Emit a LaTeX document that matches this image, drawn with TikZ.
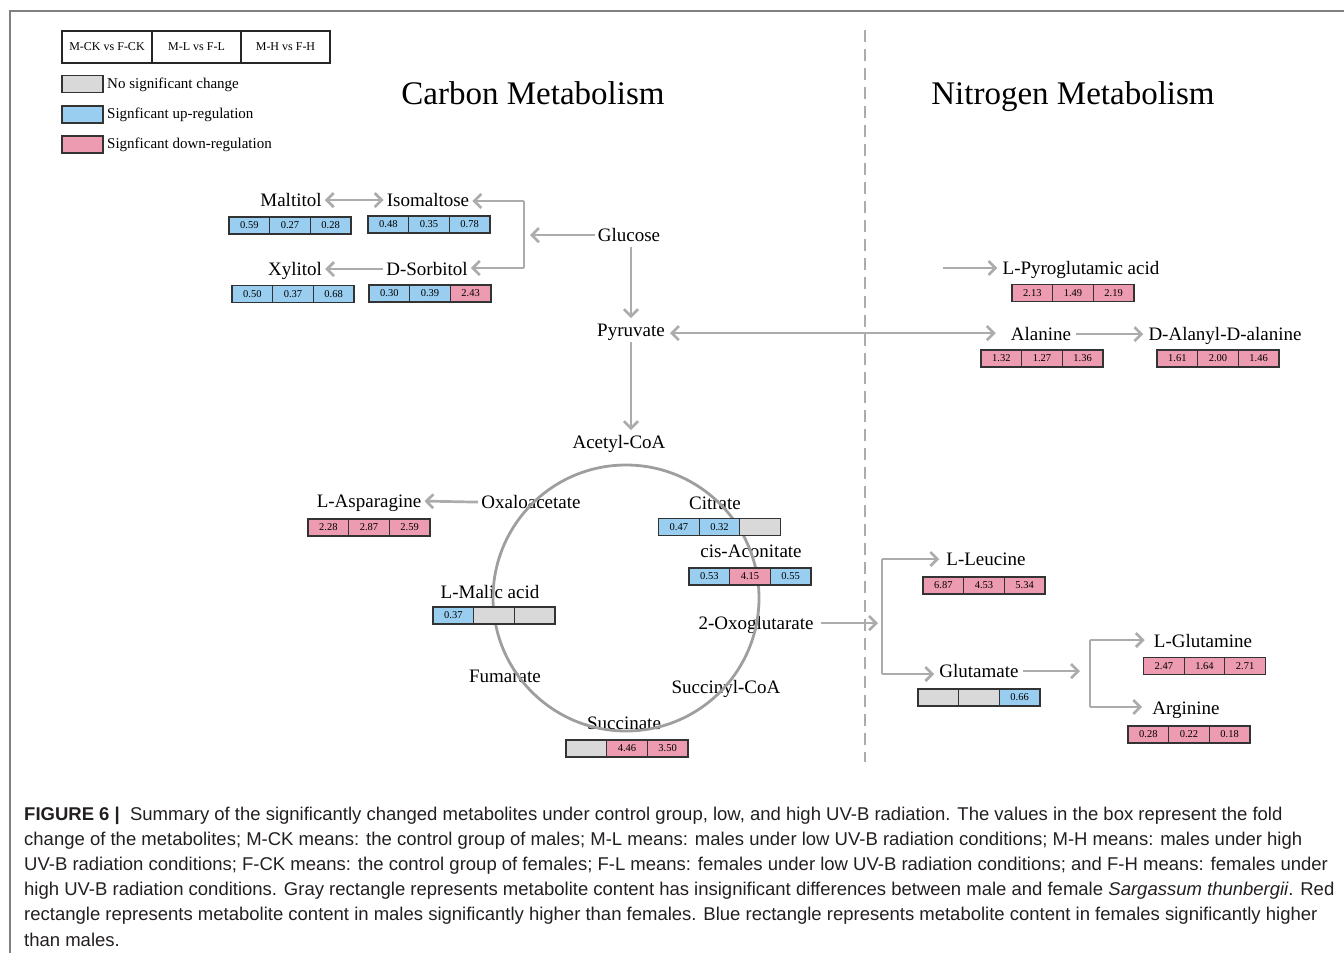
\documentclass[tikz,border=0pt]{standalone}
\usepackage{fontspec}
\setmainfont{Liberation Serif}
\newfontfamily\capfont{Liberation Sans}
\usetikzlibrary{arrows.meta,calc}
\definecolor{cgray}{RGB}{217,217,217}
\definecolor{cblue}{RGB}{153,206,240}
\definecolor{cpink}{RGB}{237,155,176}
\definecolor{arrgray}{RGB}{172,172,172}
\definecolor{circgray}{RGB}{158,158,158}
\definecolor{framegray}{RGB}{128,128,128}
\definecolor{captext}{RGB}{35,31,32}
\newcommand{\fs}[1]{\fontsize{#1}{#1}\selectfont}
\newcommand{\valrow}[9]{%
  \node[cell,fill=#6] (#1b) at (#2,#3) {#7};
  \node[cell,fill=#4,anchor=east] (#1a) at (#1b.west) {#5};
  \node[cell,fill=#8,anchor=west] (#1c) at (#1b.east) {#9};}
\begin{document}
\begin{tikzpicture}[x=1pt,y=-1pt,
  cell/.style={draw=black!80, line width=1.1pt, minimum width=40.67pt, minimum height=17pt, inner sep=0pt, outer sep=0pt, font=\fs{10.5}},
  lbl/.style={font=\fs{19}, inner xsep=3pt, inner ysep=2pt, text height=13.7pt, text depth=1.9pt, anchor=base},
  title/.style={font=\fs{33}, anchor=base},
  legtxt/.style={font=\fs{15}, anchor=west, inner sep=0pt},
  swatch/.style={draw=black!80, line width=1.1pt, minimum width=41pt, minimum height=17pt, inner sep=0pt},
  hdr/.style={draw=black!85, line width=1.2pt, minimum height=32pt, inner sep=0pt, outer sep=0pt, font=\fs{12}},
  tip/.tip={Straight Barb[length=7pt,width=14pt]},
  arr/.style={draw=arrgray, line width=2.7pt, -tip},
  arrboth/.style={draw=arrgray, line width=2.7pt, tip-tip},
  plain/.style={draw=arrgray, line width=2.7pt},
  capl/.style={font=\capfont\fs{18.5}, anchor=base west, inner sep=0pt, text=captext}]
\useasboundingbox (0,0) rectangle (1344,953);
% frame
\draw[framegray, line width=1.5pt] (1344,11) -- (10,11) -- (10,953);
% legend header
\node[hdr, minimum width=90pt] (hA) at (107,47) {M-CK vs F-CK};
\node[hdr, minimum width=89pt, anchor=west] (hB) at (hA.east) {M-L vs F-L};
\node[hdr, minimum width=89pt, anchor=west] (hC) at (hB.east) {M-H vs F-H};
\node[swatch, fill=cgray] (sw1) at (82.5,84) {};
\node[swatch, fill=cblue] (sw2) at (82.5,114.5) {};
\node[swatch, fill=cpink] (sw3) at (82.5,144.5) {};
\node[legtxt] (lt1) at (107,85) {No significant change};
\node[legtxt] (lt2) at (107,115) {Signficant up-regulation};
\node[legtxt] (lt3) at (107,145) {Signficant down-regulation};
% titles
\node[title] (tC) at (533,104) {Carbon Metabolism};
\node[title] (tN) at (1073,104) {Nitrogen Metabolism};
% dashed separator
\draw[arrgray, line width=2.5pt, dash pattern=on 12pt off 7pt] (865,30) -- (865,762);
% labels
\node[lbl] (maltitol) at (291,206) {Maltitol};
\node[lbl] (isomaltose) at (428,206) {Isomaltose};
\node[lbl] (glucose) at (629,241) {Glucose};
\node[lbl] (xylitol) at (295,275) {Xylitol};
\node[lbl] (sorbitol) at (427,275) {D-Sorbitol};
\node[lbl] (pyruvate) at (631,336) {Pyruvate};
\node[lbl] (acetyl) at (619,448) {Acetyl-CoA};
\node[lbl] (oxalo) at (531,508) {Oxaloacetate};
\node[lbl] (asparagine) at (369,507) {L-Asparagine};
\node[lbl] (citrate) at (715,509) {Citrate};
\node[lbl] (aconitate) at (751,557) {cis-Aconitate};
\node[lbl] (malic) at (490,598) {L-Malic acid};
\node[lbl] (oxoglu) at (756,629) {2-Oxoglutarate};
\node[lbl] (fumarate) at (505,682) {Fumarate};
\node[lbl] (succoa) at (726,693) {Succinyl-CoA};
\node[lbl] (succinate) at (624,729) {Succinate};
\node[lbl] (pyroglu) at (1081,274) {L-Pyroglutamic acid};
\node[lbl] (alanine) at (1041,340) {Alanine};
\node[lbl] (dala) at (1225,340) {D-Alanyl-D-alanine};
\node[lbl] (leucine) at (986,565) {L-Leucine};
\node[lbl] (glutamate) at (979,677) {Glutamate};
\node[lbl] (glutamine) at (1203,647) {L-Glutamine};
\node[lbl] (arginine) at (1186,714) {Arginine};
% TCA circle
\draw[circgray, line width=2.8pt] (626,598) circle[radius=133pt];
% coordinates
\coordinate (bkT) at (524,201);
\coordinate (bkB) at (524,268);
\coordinate (bkM) at (524,235);
\coordinate (n1) at (882,625);
\coordinate (n1T) at (882,559);
\coordinate (n1B) at (882,674);
\coordinate (n2) at (1090,674);
\coordinate (n2T) at (1090,640);
\coordinate (n2B) at (1090,707);
\coordinate (pyroStart) at (943,268);
% connectors carbon
\draw[arrboth] (maltitol.east) -- (isomaltose.west);
\draw[arr] (sorbitol.west) -- (xylitol.east);
\draw[arr, shorten >=6pt] (glucose.west) -- (glucose.west -| bkM);
\draw[plain] (bkT) -- (bkB);
\draw[arr] (bkT) -- (bkT -| isomaltose.east);
\draw[arr] (bkB) -- (bkB -| sorbitol.east);
\draw[arr, shorten <=2pt, shorten >=2pt] (glucose.south -| pyruvate) -- (pyruvate.north);
\draw[arr, shorten <=2pt, shorten >=2pt] (pyruvate.south) -- (pyruvate.south |- acetyl.north);
\draw[arrboth, shorten <=2pt, shorten >=12pt] ([yshift=-3pt]pyruvate.east) -- ([yshift=-3pt]pyruvate.east -| alanine.west);
\draw[arr] (oxalo.west) -- (asparagine.east);
\draw[arr, shorten <=4pt, shorten >=4pt] (oxoglu.east) -- (oxoglu.east -| n1);
% connectors nitrogen
\draw[arr, shorten >=2pt] (pyroStart) -- (pyroStart -| pyroglu.west);
\draw[arr, shorten <=2pt, shorten >=2pt] (alanine.east) -- (dala.west);
\draw[plain] (n1T) -- (n1B);
\draw[arr, shorten >=4pt] (n1T) -- (n1T -| leucine.west);
\draw[arr, shorten >=2pt] (n1B) -- (n1B -| glutamate.west);
\draw[arr, shorten <=1pt, shorten >=10pt] (glutamate.east) -- (glutamate.east -| n2);
\draw[plain] (n2T) -- (n2B);
\draw[arr, shorten >=6pt] (n2T) -- (n2T -| glutamine.west);
\draw[arr, shorten >=7pt] (n2B) -- (n2B -| arginine.west);
% value boxes
\valrow{mal}{290}{225.5}{cblue}{0.59}{cblue}{0.27}{cblue}{0.28}
\valrow{iso}{429}{224.5}{cblue}{0.48}{cblue}{0.35}{cblue}{0.78}
\valrow{xyl}{293}{294}{cblue}{0.50}{cblue}{0.37}{cblue}{0.68}
\valrow{sor}{430}{293.5}{cblue}{0.30}{cblue}{0.39}{cpink}{2.43}
\valrow{asp}{369}{527.5}{cpink}{2.28}{cpink}{2.87}{cpink}{2.59}
\valrow{cit}{719.5}{527}{cblue}{0.47}{cblue}{0.32}{cgray}{}
\valrow{aco}{750}{576.5}{cblue}{0.53}{cpink}{4.15}{cblue}{0.55}
\valrow{mlc}{494}{615.5}{cblue}{0.37}{cgray}{}{cgray}{}
\valrow{suc}{627}{748.5}{cgray}{}{cpink}{4.46}{cpink}{3.50}
\valrow{pyr}{1073}{293}{cpink}{2.13}{cpink}{1.49}{cpink}{2.19}
\valrow{ala}{1042}{358.5}{cpink}{1.32}{cpink}{1.27}{cpink}{1.36}
\valrow{dal}{1218}{358.5}{cpink}{1.61}{cpink}{2.00}{cpink}{1.46}
\valrow{leu}{984}{585.5}{cpink}{6.87}{cpink}{4.53}{cpink}{5.34}
\valrow{glu}{979}{697.5}{cgray}{}{cgray}{}{cblue}{0.66}
\valrow{gln}{1204.5}{666}{cpink}{2.47}{cpink}{1.64}{cpink}{2.71}
\valrow{arg}{1189}{734.5}{cpink}{0.28}{cpink}{0.22}{cpink}{0.18}
% caption
\node[capl] (cap1) at (24,820) {\textbf{FIGURE 6 \textbar}\ \ Summary of the significantly changed metabolites under control group, low, and high UV-B radiation. The values in the box represent the fold};
\node[capl] (cap2) at (24,845.2) {change of the metabolites; M-CK means: the control group of males; M-L means: males under low UV-B radiation conditions; M-H means: males under high};
\node[capl] (cap3) at (24,870.4) {UV-B radiation conditions; F-CK means: the control group of females; F-L means: females under low UV-B radiation conditions; and F-H means: females under};
\node[capl] (cap4) at (24,895.6) {high UV-B radiation conditions. Gray rectangle represents metabolite content has insignificant differences between male and female \textit{Sargassum thunbergii}. Red};
\node[capl] (cap5) at (24,920.8) {rectangle represents metabolite content in males significantly higher than females. Blue rectangle represents metabolite content in females significantly higher};
\node[capl] (cap6) at (24,946) {than males.};
\end{tikzpicture}
\end{document}
